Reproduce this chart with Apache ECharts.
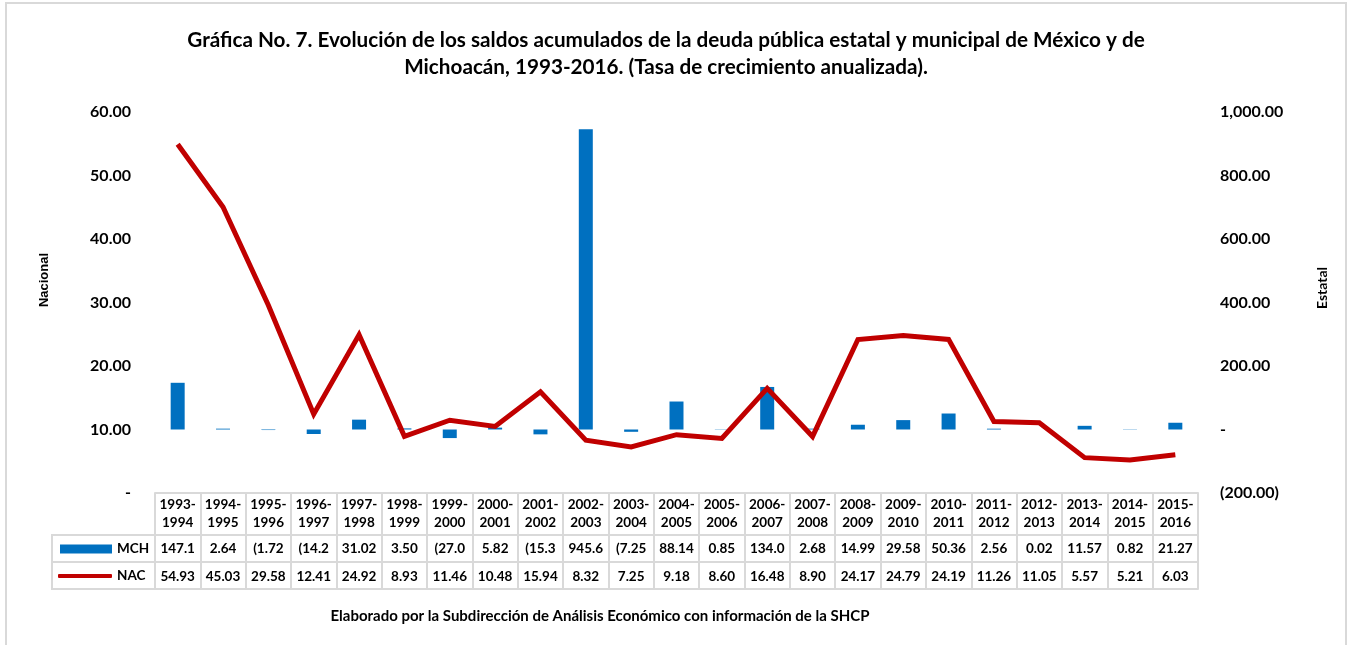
<!DOCTYPE html>
<html>
<head>
<meta charset="utf-8">
<script src="https://cdn.jsdelivr.net/npm/echarts@6/dist/echarts.min.js"></script>
<style>
  html, body { margin: 0; padding: 0; background: #fff; }
  #main { width: 1353px; height: 645px; }
</style>
</head>
<body>
<div id="main"></div>
<script>
// periodos (categorias del eje x)
var categories = ['1993-\n1994', '1994-\n1995', '1995-\n1996', '1996-\n1997', '1997-\n1998', '1998-\n1999',
    '1999-\n2000', '2000-\n2001', '2001-\n2002', '2002-\n2003', '2003-\n2004', '2004-\n2005', '2005-\n2006',
    '2006-\n2007', '2007-\n2008', '2008-\n2009', '2009-\n2010', '2010-\n2011', '2011-\n2012', '2012-\n2013',
    '2013-\n2014', '2014-\n2015', '2015-\n2016'];
// Michoacan (eje derecho, Estatal)
var mchValues = [147.1, 2.64, -1.72, -14.2, 31.02, 3.50, -27.0, 5.82, -15.3, 945.6, -7.25, 88.14, 0.85,
    134.0, 2.68, 14.99, 29.58, 50.36, 2.56, 0.02, 11.57, 0.82, 21.27];
// Nacional (eje izquierdo)
var nacValues = [54.93, 45.03, 29.58, 12.41, 24.92, 8.93, 11.46, 10.48, 15.94, 8.32, 7.25, 9.18, 8.60,
    16.48, 8.90, 24.17, 24.79, 24.19, 11.26, 11.05, 5.57, 5.21, 6.03];

var leftAxis = { min: 0, max: 60, interval: 10 };
var rightAxis = { min: -200, max: 1000, interval: 200 };

var FONT = 'Lato';
var GRID_LINE = '#d9d9d9';
var CELL_SIZE = 13.5;

function num(v) {
    return Math.abs(v).toLocaleString('en-US', { minimumFractionDigits: 2, maximumFractionDigits: 2 });
}
function axisFmt(v) {
    if (v === 0) return '-';
    return v < 0 ? '(' + num(v) + ')' : num(v);
}
// celdas de la tabla: formato contable recortado como en la hoja original
function cellFmt(v) {
    var s = v < 0 ? '(' + num(v) + ')' : num(v);
    return s.slice(0, 5);
}

var myChart = echarts.init(document.getElementById('main'));

var tableAxis = function (offset, tickLen, fmt, margin) {
    return {
        type: 'category',
        data: categories,
        position: 'bottom',
        offset: offset,
        gridIndex: 0,
        axisLine: { onZero: false, lineStyle: { color: GRID_LINE, width: 2 } },
        axisTick: { show: tickLen > 0, interval: 0, length: tickLen, lineStyle: { color: GRID_LINE, width: 2 } },
        axisLabel: {
            show: !!fmt,
            interval: 0,
            margin: margin,
            formatter: fmt,
            color: '#000',
            fontFamily: FONT,
            fontWeight: 'bold',
            fontSize: CELL_SIZE,
            lineHeight: fmt && offset === 0 ? 18 : 16
        }
    };
};

var option = {
    animation: false,
    textStyle: { fontFamily: FONT },
    legend: [{
        data: [{ name: 'MCH', icon: 'rect' }],
        left: 60, top: 541, padding: 0,
        itemWidth: 52, itemHeight: 9, itemGap: 0,
        selectedMode: false,
        textStyle: { fontFamily: FONT, fontWeight: 'bold', fontSize: CELL_SIZE, lineHeight: 16, color: '#000' }
    }, {
        data: [{ name: 'NAC', icon: 'roundRect' }],
        left: 58, top: 568, padding: 0,
        itemWidth: 54, itemHeight: 4, itemGap: 0,
        selectedMode: false,
        textStyle: { fontFamily: FONT, fontWeight: 'bold', fontSize: CELL_SIZE, lineHeight: 16, color: '#000' }
    }],
    grid: { left: 155, right: 155, top: 112, bottom: 152, containLabel: false },
    xAxis: [
        tableAxis(0, 42, function (v) { return v; }, 3),
        tableAxis(42, 27, function (v, i) { return cellFmt(mchValues[i]); }, 6),
        tableAxis(69, 27, function (v, i) { return cellFmt(nacValues[i]); }, 7),
        tableAxis(96, 0, null, 0)
    ],
    yAxis: [{
        type: 'value',
        min: leftAxis.min, max: leftAxis.max, interval: leftAxis.interval,
        position: 'left',
        axisLine: { show: false },
        axisTick: { show: false },
        splitLine: { show: false },
        axisLabel: {
            margin: 24,
            formatter: axisFmt,
            color: '#000', fontFamily: FONT, fontWeight: 'bold', fontSize: 16
        }
    }, {
        type: 'value',
        min: rightAxis.min, max: rightAxis.max, interval: rightAxis.interval,
        position: 'right',
        axisLine: { show: false },
        axisTick: { show: false },
        splitLine: { show: false },
        axisLabel: {
            margin: 22,
            formatter: axisFmt,
            color: '#000', fontFamily: FONT, fontWeight: 'bold', fontSize: 16
        }
    }],
    graphic: [{
        type: 'rect',
        shape: { x: 6, y: 3, width: 1340, height: 700 },
        style: { fill: null, stroke: GRID_LINE, lineWidth: 2 },
        silent: true
    }, {
        type: 'text',
        x: 666, y: 27,
        style: {
            text: 'Gráfica No. 7. Evolución de los saldos acumulados de la deuda pública estatal y municipal de México y de\nMichoacán, 1993-2016. (Tasa de crecimiento anualizada).',
            align: 'center', verticalAlign: 'top',
            font: 'bold 20.7px Lato', lineHeight: 27, fill: '#000'
        },
        silent: true
    }, {
        type: 'text',
        x: 600, y: 616,
        style: {
            text: 'Elaborado por la Subdirección de Análisis Económico con información de la SHCP',
            align: 'center', verticalAlign: 'middle',
            font: 'bold 15px Lato', fill: '#000'
        },
        silent: true
    }, {
        type: 'text',
        x: 44, y: 280, rotation: Math.PI / 2,
        style: { text: 'Nacional', align: 'center', verticalAlign: 'middle', font: 'bold 13px "Liberation Sans"', fill: '#000' },
        silent: true
    }, {
        type: 'text',
        x: 1322, y: 288, rotation: Math.PI / 2,
        style: { text: 'Estatal', align: 'center', verticalAlign: 'middle', font: 'bold 14px Lato', fill: '#000' },
        silent: true
    }, {
        type: 'rect',
        shape: { x: 52, y: 535, width: 103, height: 54 },
        style: { fill: null, stroke: GRID_LINE, lineWidth: 2 },
        silent: true
    }, {
        type: 'line',
        shape: { x1: 52, y1: 562, x2: 155, y2: 562 },
        style: { stroke: GRID_LINE, lineWidth: 2 },
        silent: true
    }],
    series: [{
        name: 'MCH',
        type: 'bar',
        xAxisIndex: 0,
        yAxisIndex: 1,
        barWidth: 14,
        itemStyle: { color: '#0070c0' },
        data: mchValues,
        z: 2
    }, {
        name: 'NAC',
        type: 'line',
        xAxisIndex: 0,
        yAxisIndex: 0,
        symbol: 'none',
        lineStyle: { color: '#c00000', width: 5, join: 'miter' },
        itemStyle: { color: '#c00000' },
        data: nacValues,
        z: 3
    }]
};
myChart.setOption(option);
</script>
</body>
</html>
